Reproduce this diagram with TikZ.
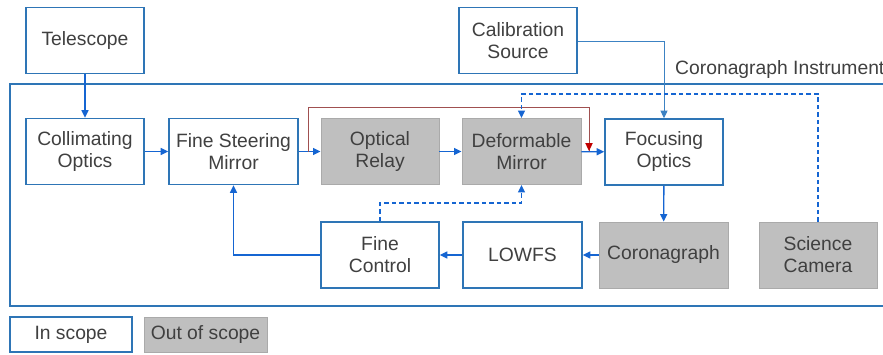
\documentclass[tikz,border=0pt]{standalone}
\usepackage{fontspec}
\setmainfont{Liberation Sans}
\usetikzlibrary{arrows.meta}
\definecolor{boxblue}{RGB}{46,117,182}
\definecolor{arrowblue}{RGB}{21,101,210}
\definecolor{calblue}{RGB}{60,130,195}
\definecolor{redline}{RGB}{160,80,80}
\definecolor{redtip}{RGB}{192,0,0}
\definecolor{grayfill}{RGB}{191,191,191}
\definecolor{grayedge}{RGB}{170,170,170}
\definecolor{txt}{RGB}{64,64,64}
\tikzset{
  every node/.style={font=\fontsize{19.3}{22}\selectfont, text=txt, align=center, inner sep=0pt},
  inbox/.style={draw=boxblue, line width=1.6pt, fill=white, minimum height=66pt},
  outbox/.style={draw=grayedge, line width=0.9pt, fill=grayfill, minimum height=66pt},
  flow/.style={draw=arrowblue, line width=1.4pt, -{Triangle[length=7.5pt,width=7pt]}},
  ctrl/.style={draw=arrowblue, line width=1.4pt, dash pattern=on 4.5pt off 3pt, -{Triangle[length=7.5pt,width=7pt]}},
}
\begin{document}
\begin{tikzpicture}[x=1pt,y=-1pt]
\clip (0,0) rectangle (883,354);
\fill[white] (0,0) rectangle (883,354);

% instrument enclosure
\draw[boxblue, line width=1.3pt] (10,84) rectangle (895,306);
\node[anchor=base west] (instr) at (675,74) {Coronagraph Instrument};

% outside the instrument
\node[inbox, minimum width=118pt] (tel) at (85,40.5) {Telescope};
\node[inbox, minimum width=118pt] (cal) at (518,40.5) {Calibration\\Source};

% upper optical train
\node[inbox, minimum width=118pt] (col) at (85,151.5) {Collimating\\Optics};
\node[inbox, minimum width=129pt] (fsm) at (233.5,151.5) {Fine Steering\\Mirror};
\node[outbox, minimum width=118pt] (rel) at (380,151.5) {Optical\\Relay};
\node[outbox, minimum width=119pt] (dm) at (521.5,151.5) {Deformable\\Mirror};
\node[inbox, minimum width=118pt] (foc) at (664,152) {Focusing\\Optics};

% lower row
\node[inbox, minimum width=118pt] (fc) at (380,255) {Fine\\Control};
\node[inbox, minimum width=119pt] (lowfs) at (522.5,255) {LOWFS};
\node[outbox, minimum width=129pt] (cor) at (663.5,255) {Coronagraph};
\node[outbox, minimum width=118pt] (sci) at (818,255) {Science\\Camera};

% legend
\node[draw=boxblue, line width=1.6pt, fill=white, minimum width=122pt, minimum height=35pt] (lin) at (71,334.5) {In scope};
\node[draw=grayedge, line width=0.9pt, fill=grayfill, minimum width=123pt, minimum height=35pt] (lout) at (205.5,334.5) {Out of scope};

% light path
\draw[flow] (tel) -- (col);
\draw[flow] (col) -- (fsm);
\draw[flow] (fsm) -- (rel);
\draw[flow] (rel) -- (dm);
\draw[flow] (dm) -- (foc);
\draw[draw=calblue, line width=0.9pt, -{Triangle[length=7.5pt,width=7pt]}] (cal.east) ++(0,1) -| (foc.north);
\draw[flow] (foc) -- (cor);
\draw[flow] (cor) -- (lowfs);
\draw[flow] (lowfs) -- (fc);
\draw[flow] (fc.west) -| (fsm.south);

% bypass around the relay and deformable mirror
\coordinate (bypA) at (308,151.5);
\coordinate (bypTop) at (308,107);
\coordinate (bypB) at (589,151);
\draw[redline, line width=0.9pt] (bypA) -- (bypTop) -| (bypB);
\fill[redtip] (bypB) ++(-3.8,-8) -- ++(7.6,0) -- (bypB) -- cycle;

% control loops to the deformable mirror
\coordinate (loopHi) at (0,94);
\coordinate (loopLo) at (0,203);
\draw[ctrl] (sci.north) -- (sci.north |- loopHi) -| (dm.north);
\draw[ctrl] (fc.north) -- (fc.north |- loopLo) -| (dm.south);
\end{tikzpicture}
\end{document}
